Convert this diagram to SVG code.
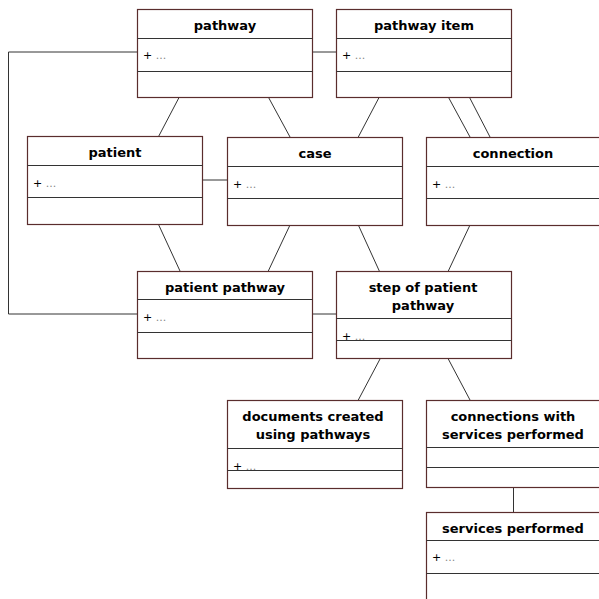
<svg xmlns="http://www.w3.org/2000/svg" width="599" height="599" viewBox="0 0 599 599">
<style>
.box{fill:#fff;stroke:#5a2d2d;stroke-width:1.2}
.sep{stroke:#333;stroke-width:1}
.t{font-family:"DejaVu Sans",Verdana,sans-serif;font-weight:bold;font-size:13px;fill:#000;text-anchor:middle}
.a{font-family:"DejaVu Sans",Verdana,sans-serif;font-size:11px;fill:#000}
.d{fill:#888}
.c{fill:none;stroke:#333;stroke-width:1}
</style>
<rect width="599" height="599" fill="#fff"/>
<g id="connectors">
<polyline class="c" points="137,52 8.5,52 8.5,314 137,314"/>
<line class="c" x1="312" y1="52" x2="336" y2="52"/>
<line class="c" x1="202" y1="180" x2="227" y2="180"/>
<line class="c" x1="312" y1="314" x2="336" y2="314"/>
<line class="c" x1="513.5" y1="488" x2="513.5" y2="512"/>
<line class="c" x1="179.3" y1="97" x2="158.3" y2="137"/>
<line class="c" x1="268.3" y1="97" x2="290" y2="137"/>
<line class="c" x1="379.3" y1="97" x2="358.3" y2="137"/>
<line class="c" x1="448.3" y1="97" x2="470" y2="137"/>
<line class="c" x1="469.3" y1="97" x2="490" y2="137"/>
<line class="c" x1="158.3" y1="224" x2="180" y2="271"/>
<line class="c" x1="290" y1="225" x2="268.3" y2="271"/>
<line class="c" x1="358.3" y1="225" x2="379.3" y2="271"/>
<line class="c" x1="470" y1="225" x2="448.3" y2="271"/>
<line class="c" x1="380" y1="359" x2="358.3" y2="400"/>
<line class="c" x1="448.3" y1="359" x2="470" y2="400"/>
</g>
<g id="pathway">
<rect class="box" x="137.5" y="9.5" width="175" height="88"/>
<line class="sep" x1="137.5" y1="38.5" x2="312.5" y2="38.5"/>
<line class="sep" x1="137.5" y1="71.5" x2="312.5" y2="71.5"/>
<text class="t" x="225" y="30">pathway</text>
<text class="a" x="143" y="59">+ <tspan class="d">...</tspan></text>
</g>
<g id="pathway-item">
<rect class="box" x="336.5" y="9.5" width="175" height="88"/>
<line class="sep" x1="336.5" y1="38.5" x2="511.5" y2="38.5"/>
<line class="sep" x1="336.5" y1="71.5" x2="511.5" y2="71.5"/>
<text class="t" x="424" y="30">pathway item</text>
<text class="a" x="342" y="59">+ <tspan class="d">...</tspan></text>
</g>
<g id="patient">
<rect class="box" x="27.5" y="136.5" width="175" height="88"/>
<line class="sep" x1="27.5" y1="165.5" x2="202.5" y2="165.5"/>
<line class="sep" x1="27.5" y1="197.5" x2="202.5" y2="197.5"/>
<text class="t" x="115" y="157">patient</text>
<text class="a" x="33" y="187">+ <tspan class="d">...</tspan></text>
</g>
<g id="case">
<rect class="box" x="227.5" y="137.5" width="175" height="88"/>
<line class="sep" x1="227.5" y1="166.5" x2="402.5" y2="166.5"/>
<line class="sep" x1="227.5" y1="198.5" x2="402.5" y2="198.5"/>
<text class="t" x="315" y="158">case</text>
<text class="a" x="233" y="188">+ <tspan class="d">...</tspan></text>
</g>
<g id="connection">
<rect class="box" x="426.5" y="137.5" width="175" height="88"/>
<line class="sep" x1="426.5" y1="166.5" x2="601.5" y2="166.5"/>
<line class="sep" x1="426.5" y1="198.5" x2="601.5" y2="198.5"/>
<text class="t" x="513" y="158">connection</text>
<text class="a" x="432" y="188">+ <tspan class="d">...</tspan></text>
</g>
<g id="patient-pathway">
<rect class="box" x="137.5" y="271.5" width="175" height="87"/>
<line class="sep" x1="137.5" y1="299.5" x2="312.5" y2="299.5"/>
<line class="sep" x1="137.5" y1="332.5" x2="312.5" y2="332.5"/>
<text class="t" x="225" y="292">patient pathway</text>
<text class="a" x="143" y="321">+ <tspan class="d">...</tspan></text>
</g>
<g id="step-of-patient-pathway">
<rect class="box" x="336.5" y="271.5" width="175" height="87"/>
<line class="sep" x1="336.5" y1="318.5" x2="511.5" y2="318.5"/>
<line class="sep" x1="336.5" y1="340.5" x2="511.5" y2="340.5"/>
<text class="t" x="423" y="292">step of patient</text>
<text class="t" x="423" y="310">pathway</text>
<text class="a" x="342" y="340">+ <tspan class="d">...</tspan></text>
</g>
<g id="documents-created">
<rect class="box" x="227.5" y="400.5" width="175" height="88"/>
<line class="sep" x1="227.5" y1="448.5" x2="402.5" y2="448.5"/>
<line class="sep" x1="227.5" y1="470.5" x2="402.5" y2="470.5"/>
<text class="t" x="313" y="421">documents created</text>
<text class="t" x="313" y="439">using pathways</text>
<text class="a" x="233" y="470">+ <tspan class="d">...</tspan></text>
</g>
<g id="connections-with-services">
<rect class="box" x="426.5" y="400.5" width="175" height="87"/>
<line class="sep" x1="426.5" y1="447.5" x2="601.5" y2="447.5"/>
<line class="sep" x1="426.5" y1="467.5" x2="601.5" y2="467.5"/>
<text class="t" x="513" y="421">connections with</text>
<text class="t" x="513" y="439">services performed</text>
</g>
<g id="services-performed">
<rect class="box" x="426.5" y="512.5" width="175" height="88"/>
<line class="sep" x1="426.5" y1="540.5" x2="601.5" y2="540.5"/>
<line class="sep" x1="426.5" y1="573.5" x2="601.5" y2="573.5"/>
<text class="t" x="513" y="533">services performed</text>
<text class="a" x="432" y="561">+ <tspan class="d">...</tspan></text>
</g>
</svg>
